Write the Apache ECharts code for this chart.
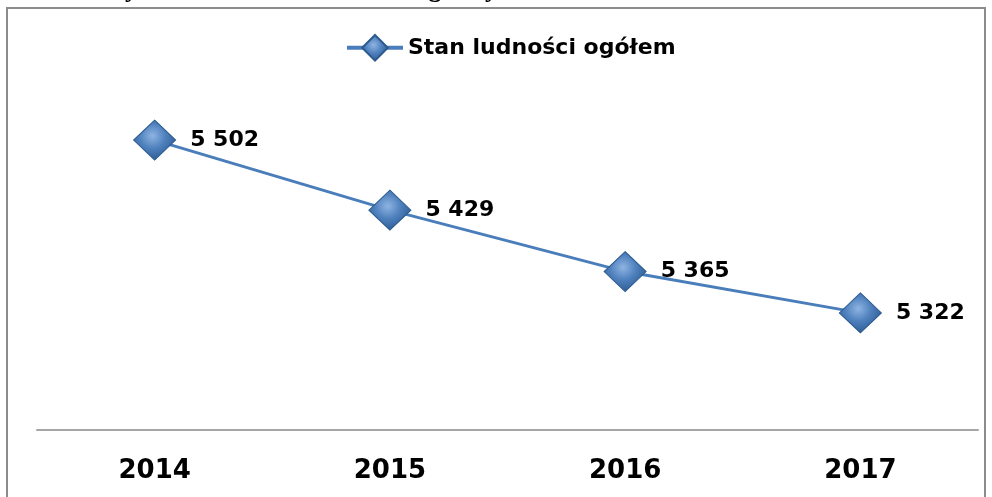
<!DOCTYPE html>
<html>
<head>
<meta charset="utf-8">
<script src="https://cdn.jsdelivr.net/npm/echarts@6/dist/echarts.min.js"></script>
<style>
  html, body { margin: 0; padding: 0; background: #fff; }
  #myChart { width: 992px; height: 497px; }
</style>
</head>
<body>
<div id="myChart"></div>
<script>
// dane z wykresu
var titleText = 'Wykres 1. Stan mieszkańców gminy w latach 2014 - 2017'
var seriesName = 'Stan ludności ogółem'
var years = ['2014', '2015', '2016', '2017']
var population = [5502, 5429, 5365, 5322]

var myChart = echarts.init(document.getElementById('myChart'))

var diamondColor = {
  type: 'radial',
  x: 0.45, y: 0.4, r: 0.6,
  colorStops: [
    { offset: 0, color: '#8fb4e3' },
    { offset: 0.5, color: '#4f81bd' },
    { offset: 1, color: '#2f5d95' }
  ]
}

var option = {
  backgroundColor: '#fff',
  animation: false,
  title: {
    text: titleText,
    left: 95,
    top: -28,
    textStyle: {
      fontFamily: 'Liberation Serif',
      fontWeight: 'bold',
      fontSize: 26,
      color: '#000'
    }
  },
  graphic: [
    {
      type: 'rect',
      shape: { x: 7, y: 8, width: 978, height: 520 },
      style: { fill: 'none', stroke: '#8c8c8c', lineWidth: 2 },
      silent: true,
      z: -1
    }
  ],
  legend: {
    data: [seriesName],
    left: 340,
    top: 29,
    itemWidth: 56,
    itemHeight: 32,
    itemGap: 3,
    lineStyle: { width: 4 },
    textStyle: {
      fontFamily: 'DejaVu Sans',
      fontWeight: 'bold',
      fontSize: 22,
      color: '#000'
    }
  },
  grid: {
    left: 37,
    right: 14,
    top: 46,
    bottom: 67
  },
  xAxis: {
    type: 'category',
    data: years,
    boundaryGap: true,
    axisLine: { lineStyle: { color: '#a6a6a6', width: 2 } },
    axisTick: { show: false },
    axisLabel: {
      margin: 28,
      fontFamily: 'DejaVu Sans',
      fontWeight: 'bold',
      fontSize: 26,
      color: '#000'
    }
  },
  yAxis: {
    type: 'value',
    min: 5200,
    max: 5600,
    show: false,
    splitLine: { show: false }
  },
  series: [
    {
      name: seriesName,
      type: 'line',
      data: population,
      symbol: 'diamond',
      symbolSize: [42, 40],
      lineStyle: { color: '#4a7ebb', width: 3 },
      itemStyle: {
        color: diamondColor,
        borderColor: '#2c5a8f',
        borderWidth: 1
      },
      label: {
        show: true,
        position: 'right',
        distance: 14,
        formatter: function (p) {
          var v = String(p.value)
          return v.slice(0, v.length - 3) + ' ' + v.slice(-3)
        },
        fontFamily: 'DejaVu Sans',
        fontWeight: 'bold',
        fontSize: 22,
        color: '#000'
      }
    }
  ]
}

myChart.setOption(option)
</script>
</body>
</html>
